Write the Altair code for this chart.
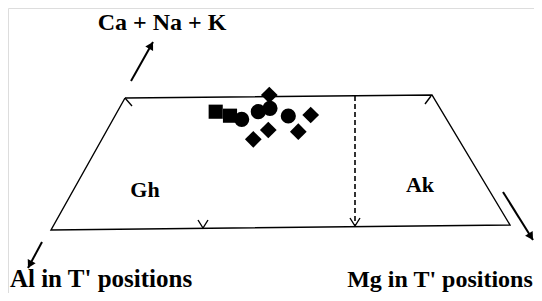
import altair as alt
import pandas as pd
import numpy as np

# ---- data (diagram coordinates) ----
frame_x = [125, 432, 510, 51, 125]
frame_y = [98, 95, 225, 230, 98]

tick_segments = {
    "tl": ([125, 132], [98, 106]),
    "tr": ([431, 425], [96, 104]),
    "bv": ([198, 203, 208], [220, 228, 220]),
    "dv": ([350, 355, 360], [218, 226, 218]),
}

dash_x = [355, 355]
dash_y = [96, 225]

arrow_names = ["ca", "al", "mg"]
arrow_x0 = [131, 42, 503]
arrow_y0 = [81, 242, 192]
arrow_x1 = [153, 28, 533]
arrow_y1 = [42, 268, 240]

pt_shape = ["square", "square", "circle", "circle", "circle", "circle",
            "diamond", "diamond", "diamond", "diamond", "diamond"]
pt_x = [215.7, 230, 241.7, 258.3, 270, 288.3, 269.3, 253.3, 268.3, 298.3, 310.7]
pt_y = [111.7, 115.7, 119.3, 111.7, 108.3, 116, 95, 139.3, 130, 131.7, 115]
pt_size = [200, 200, 230, 230, 230, 230, 280, 280, 280, 280, 280]

label_text = ["Ca + Na + K", "Gh", "Ak", "Al in T' positions", "Mg in T' positions"]
label_x = [162, 145, 420, 101, 440]
label_y = [30, 197, 192, 287, 287]
label_size = [24, 22, 22, 25, 24]

# ---- tables ----
W, H = 526, 285
xs = alt.Scale(domain=[8, 8 + W])
ys = alt.Scale(domain=[8, 8 + H], reverse=True)
X = lambda f: alt.X(f, scale=xs, axis=None)
Y = lambda f: alt.Y(f, scale=ys, axis=None)

rows = []
for i, (x, y) in enumerate(zip(frame_x, frame_y)):
    rows.append({"seg": "frame", "o": i, "x": x, "y": y})
for k, (sx, sy) in tick_segments.items():
    for i, (x, y) in enumerate(zip(sx, sy)):
        rows.append({"seg": k, "o": i, "x": x, "y": y})
lines_df = pd.DataFrame(rows)

dash_df = pd.DataFrame({"o": [0, 1], "x": dash_x, "y": dash_y})

arows = []
for n, a, b, c, d in zip(arrow_names, arrow_x0, arrow_y0, arrow_x1, arrow_y1):
    arows.append({"seg": n, "o": 0, "x": a, "y": b})
    arows.append({"seg": n, "o": 1, "x": c, "y": d})
arrow_df = pd.DataFrame(arows)

HEAD_SIZE = 80
r = np.sqrt(HEAD_SIZE) / 2
h = np.sqrt(3) / 2 * r
hx, hy, ha = [], [], []
for a, b, c, d in zip(arrow_x0, arrow_y0, arrow_x1, arrow_y1):
    L = np.hypot(c - a, d - b)
    ux, uy = (c - a) / L, (d - b) / L
    hx.append(c - ux * h)
    hy.append(d - uy * h)
    ha.append(float((np.degrees(np.arctan2(ux, -uy)) + 360) % 360))
heads_df = pd.DataFrame({"x": hx, "y": hy, "ang": ha})

pts_df = pd.DataFrame({"shape": pt_shape, "x": pt_x, "y": pt_y, "size": pt_size})
lab_df = pd.DataFrame({"t": label_text, "x": label_x, "y": label_y, "s": label_size})

frame = alt.Chart(lines_df).mark_line(color="black", strokeWidth=1.4).encode(
    x=X("x:Q"), y=Y("y:Q"), detail="seg:N", order="o:Q")

dash = alt.Chart(dash_df).mark_line(color="black", strokeWidth=1.6, strokeDash=[5, 3]).encode(
    x=X("x:Q"), y=Y("y:Q"), order="o:Q")

arrows = alt.Chart(arrow_df).mark_line(color="black", strokeWidth=2).encode(
    x=X("x:Q"), y=Y("y:Q"), detail="seg:N", order="o:Q")

heads = alt.Chart(heads_df).mark_point(
    shape="triangle-up", filled=True, color="black", opacity=1, size=HEAD_SIZE
).encode(x=X("x:Q"), y=Y("y:Q"), angle=alt.Angle("ang:Q", scale=None))

points = alt.Chart(pts_df).mark_point(filled=True, color="black", opacity=1).encode(
    x=X("x:Q"), y=Y("y:Q"),
    shape=alt.Shape("shape:N", scale=None, legend=None),
    size=alt.Size("size:Q", scale=None, legend=None))

labels = alt.Chart(lab_df).mark_text(
    font="Liberation Serif", fontWeight="bold", color="black", baseline="alphabetic", align="center"
).encode(x=X("x:Q"), y=Y("y:Q"), text="t:N", size=alt.Size("s:Q", scale=None, legend=None))

chart = alt.layer(frame, dash, arrows, heads, points, labels).properties(
    width=W, height=H, padding=0, autosize=alt.AutoSizeParams(type="none")
).configure_view(stroke=None).configure(background="white")

chart.save("out.html", embed_options={"renderer": "svg", "actions": False})
